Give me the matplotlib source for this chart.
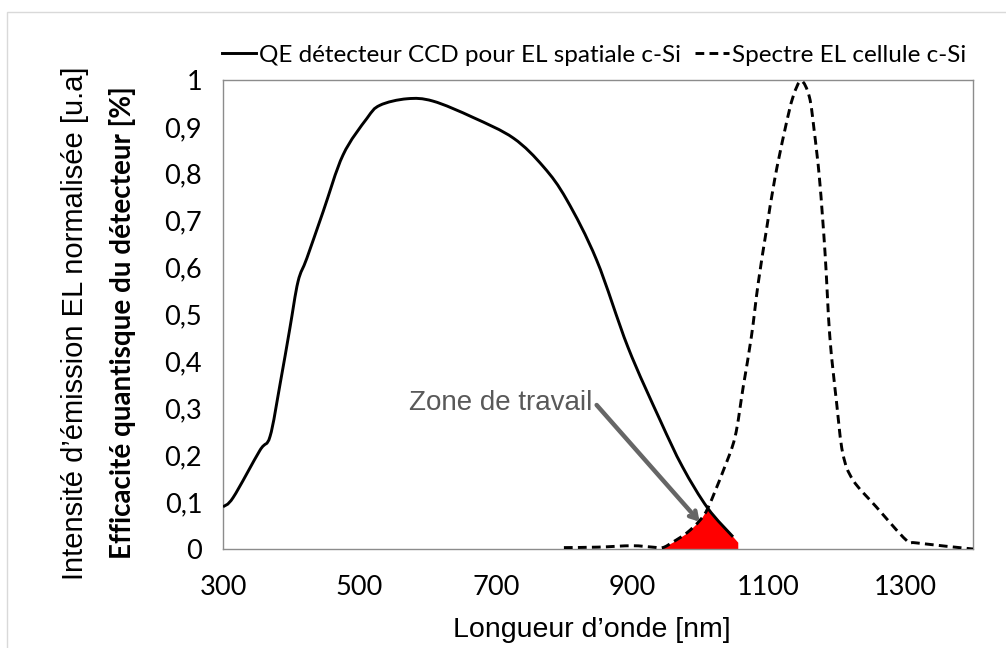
import numpy as np
import matplotlib
matplotlib.use("Agg")
import matplotlib.pyplot as plt
from matplotlib.patches import Rectangle, PathPatch
from matplotlib.path import Path
from matplotlib.lines import Line2D

# ---- data ----
qe_wl = [300, 315, 354, 369, 384, 398, 410, 423, 447, 476, 511, 530, 570, 608,
         667, 726, 770, 804, 848, 894, 941, 974, 1011, 1048]
qe_val = [0.09, 0.11, 0.21, 0.24, 0.354, 0.47, 0.57, 0.62, 0.72, 0.84, 0.918, 0.946,
          0.96, 0.955, 0.92, 0.876, 0.815, 0.745, 0.616, 0.43, 0.275, 0.175,
          0.087, 0.026]

el_wl = [800, 850, 900, 930, 945, 960, 980, 1000, 1012, 1034, 1051, 1063, 1075,
         1085, 1097, 1109, 1124, 1136, 1148, 1160, 1167, 1175, 1183, 1190, 1200,
         1209, 1224, 1258, 1302, 1317, 1400]
el_val = [0.003, 0.004, 0.007, 0.004, 0.003, 0.015, 0.034, 0.062, 0.09, 0.168,
          0.239, 0.346, 0.453, 0.567, 0.68, 0.787, 0.893, 0.964, 0.998, 0.964,
          0.893, 0.787, 0.631, 0.453, 0.311, 0.204, 0.147, 0.09, 0.019, 0.013, 0.0]

x_ticks = [300, 500, 700, 900, 1100, 1300]
y_ticks = [0, 0.1, 0.2, 0.3, 0.4, 0.5, 0.6, 0.7, 0.8, 0.9, 1]
y_tick_labels = ["0", "0,1", "0,2", "0,3", "0,4", "0,5", "0,6", "0,7", "0,8", "0,9", "1"]

label_qe = "QE détecteur CCD pour EL spatiale c-Si"
label_el = "Spectre EL cellule c-Si"
xlabel = "Longueur d’onde [nm]"
ylabel1 = "Intensité d’émission EL normalisée [u.a]"
ylabel2 = "Efficacité quantisque du détecteur [%]"
zone_text = "Zone de travail"
zone_start, zone_end = 945, 1055


def smooth_path(xs, ys, t=1 / 6):
    """Excel-like smoothed line as cubic Bezier path through the data points."""
    xs = np.asarray(xs, float)
    ys = np.asarray(ys, float)
    n = len(xs)
    verts = [(xs[0], ys[0])]
    codes = [Path.MOVETO]
    for i in range(n - 1):
        p0 = np.array([xs[max(i - 1, 0)], ys[max(i - 1, 0)]])
        p1 = np.array([xs[i], ys[i]])
        p2 = np.array([xs[i + 1], ys[i + 1]])
        p3 = np.array([xs[min(i + 2, n - 1)], ys[min(i + 2, n - 1)]])
        c1 = p1 + (p2 - p0) * t
        c2 = p2 - (p3 - p1) * t
        verts += [tuple(c1), tuple(c2), tuple(p2)]
        codes += [Path.CURVE4] * 3
    return Path(verts, codes)


# ---- figure ----
W, H = 1006, 648
fig = plt.figure(figsize=(W / 100, H / 100), dpi=100)
fig.patch.set_facecolor("white")
fig.add_artist(Rectangle((7 / W, -0.01), 1.02, 1 - 12 / H + 0.01, transform=fig.transFigure,
                         fill=False, edgecolor="#d9d9d9", linewidth=1.0))

ax = fig.add_axes([223 / W, 1 - 549 / H, (973 - 223) / W, (549 - 80) / H])
ax.set_xlim(300, 1400)
ax.set_ylim(0, 1)

# red working zone: under the min of both curves
qe_wl_a = np.array(qe_wl, float)
qe_val_a = np.array(qe_val, float)
slope = (qe_val_a[-1] - qe_val_a[-2]) / (qe_wl_a[-1] - qe_wl_a[-2])
grid = np.linspace(zone_start, zone_end, 300)
qe_i = np.where(grid <= qe_wl_a[-1], np.interp(grid, qe_wl_a, qe_val_a),
                qe_val_a[-1] + slope * (grid - qe_wl_a[-1]))
el_i = np.interp(grid, el_wl, el_val)
fill_top = np.clip(np.minimum(qe_i, el_i), 0, None)
ax.fill_between(grid, 0, fill_top, color="#ff0000", linewidth=0, zorder=1)

LW = 2.1
ax.add_patch(PathPatch(smooth_path(qe_wl, qe_val), fill=False, edgecolor="black",
                       linewidth=LW, zorder=3, joinstyle="round", capstyle="butt"))
ax.add_patch(PathPatch(smooth_path(el_wl, el_val), fill=False, edgecolor="black",
                       linewidth=LW, zorder=3, linestyle=(0, (3, 1.8))))
l1 = Line2D([], [], color="black", linewidth=LW, label=label_qe)
l2 = Line2D([], [], color="black", linewidth=LW, dashes=(3, 1.8), label=label_el)

for s in ax.spines.values():
    s.set_color("#8c8c8c")
    s.set_linewidth(1.0)
ax.set_xticks(x_ticks)
ax.set_xticklabels([str(v) for v in x_ticks], fontfamily="Lato", fontsize=19.5)
ax.set_yticks(y_ticks)
ax.set_yticklabels(y_tick_labels, fontfamily="Lato", fontsize=19.5)
ax.tick_params(axis="x", length=0, pad=19)
ax.tick_params(axis="y", length=0, pad=15)

fig.text(592 / W, 1 - 637 / H, xlabel, ha="center", va="baseline",
         fontfamily="Liberation Sans", fontsize=20.5)
fig.text(75 / W, 1 - 323 / H, ylabel1, ha="center", va="center", rotation=90,
         fontfamily="Liberation Sans", fontsize=21)
fig.text(122 / W, 1 - 323 / H, ylabel2, ha="center", va="center", rotation=90,
         fontfamily="Lato", fontweight="bold", fontsize=20)

# annotation
ax.text(842, 0.311, zone_text, ha="right", va="center", color="#595959",
        fontfamily="Liberation Sans", fontsize=20)
ax.annotate("", xy=(999, 0.058), xytext=(848, 0.307),
            arrowprops=dict(arrowstyle="->,head_length=0.5,head_width=0.3",
                            color="#666666", lw=3.2, shrinkA=0, shrinkB=0))

fig.legend(handles=[l1, l2], loc="center", ncol=2,
           bbox_to_anchor=(594 / W, 1 - 55 / H), frameon=False,
           prop={"family": "Lato", "size": 17.5}, handlelength=1.4,
           handletextpad=0.12, columnspacing=0.6)

fig.savefig("out.png", dpi=100, facecolor="white")
